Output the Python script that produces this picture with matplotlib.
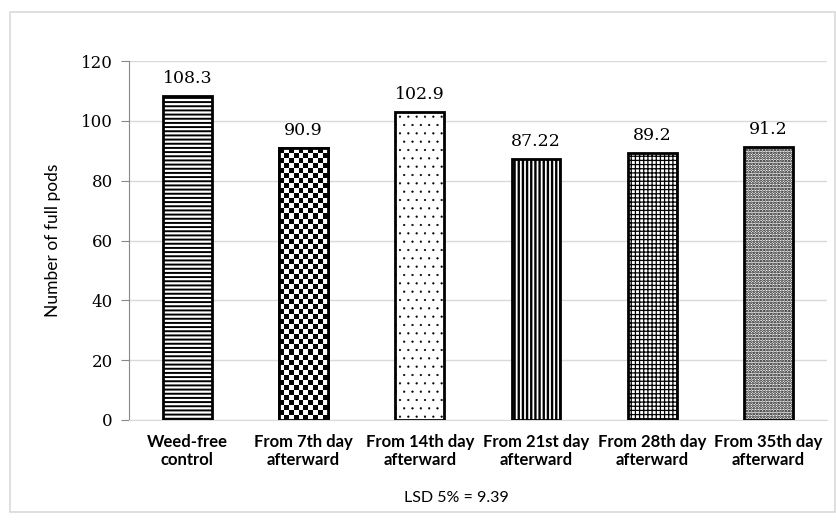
import matplotlib
matplotlib.use("Agg")
import numpy as np
import matplotlib.pyplot as plt
from matplotlib.patches import Rectangle

categories = ["Weed-free\ncontrol", "From 7th day\nafterward", "From 14th day\nafterward",
              "From 21st day\nafterward", "From 28th day\nafterward", "From 35th day\nafterward"]
values = [108.3, 90.9, 102.9, 87.22, 89.2, 91.2]
value_labels = ["108.3", "90.9", "102.9", "87.22", "89.2", "91.2"]
# bar 2 is a checkerboard (drawn as an image clipped to the bar)
hatches = ["----", "", "..", "||||", "++++", "......"]
hatch_widths = [1.4, 1.0, 0.35, 1.7, 0.9, 1.3]
y_ticks = [0, 20, 40, 60, 80, 100, 120]

fig = plt.figure(figsize=(8.37, 5.24), dpi=100)
ax = fig.add_axes([0.1545, 0.1985, 0.833, 0.685])

# light grey outer frame
fig.patches.append(Rectangle((10 / 837, 12 / 524), 825 / 837, 500 / 524, transform=fig.transFigure,
                             fill=False, edgecolor="#d9d9d9", linewidth=1.2))

ax.set_xlim(-0.5, len(values) - 0.5)
ax.set_ylim(0, 120)

x = list(range(len(values)))
bars = []
for xi, v, h, hw in zip(x, values, hatches, hatch_widths):
    plt.rcParams["hatch.linewidth"] = hw
    b = ax.bar(xi, v, width=0.42, color="white", edgecolor="black", linewidth=2, hatch=h, zorder=3)[0]
    bars.append(b)

# checkerboard fill for the "From 7th day" bar
b = bars[1]
x0, y0 = b.get_x(), b.get_y()
w, hgt = b.get_width(), b.get_height()
px0 = ax.transData.transform((x0, y0))
px1 = ax.transData.transform((x0 + w, y0 + hgt))
nx = max(1, int(round((px1[0] - px0[0]) / 5.0)))
ny = max(1, int(round((px1[1] - px0[1]) / 5.0)))
checker = (np.indices((ny, nx)).sum(axis=0) % 2).astype(float)
im = ax.imshow(checker, cmap="gray", extent=(x0, x0 + w, y0, y0 + hgt), aspect="auto",
               interpolation="nearest", zorder=3.5)
im.set_clip_path(b)
ax.bar(x[1], values[1], width=0.42, fill=False, edgecolor="black", linewidth=2, zorder=4)
ax.set_xlim(-0.5, len(values) - 0.5)
ax.set_ylim(0, 120)

for xi, v, lab in zip(x, values, value_labels):
    ax.text(xi, v + 3, lab, ha="center", va="bottom", fontsize=12.5, family="DejaVu Serif")

ax.set_yticks(y_ticks)
ax.set_yticklabels([str(t) for t in y_ticks], family="DejaVu Serif", fontsize=12)
ax.set_xticks(x)
ax.set_xticklabels(categories, family="Lato", fontweight="bold", fontsize=12, linespacing=1.2,
                   multialignment="center")
ax.tick_params(axis="x", length=0, pad=10)
ax.tick_params(axis="y", length=6, color="#888888", pad=6)

ax.grid(axis="y", color="#d9d9d9", linewidth=1, zorder=0)
ax.set_axisbelow(True)
for s in ["top", "right"]:
    ax.spines[s].set_visible(False)
ax.spines["left"].set_color("#888888")
ax.spines["bottom"].set_color("#d9d9d9")

ax.set_ylabel("Number of full pods", family="Lato", fontsize=12.5, labelpad=14)
fig.text(0.545, 0.05, "LSD 5% = 9.39", ha="center", va="center", family="Lato", fontsize=11.5)

fig.savefig("out.png", dpi=100)
